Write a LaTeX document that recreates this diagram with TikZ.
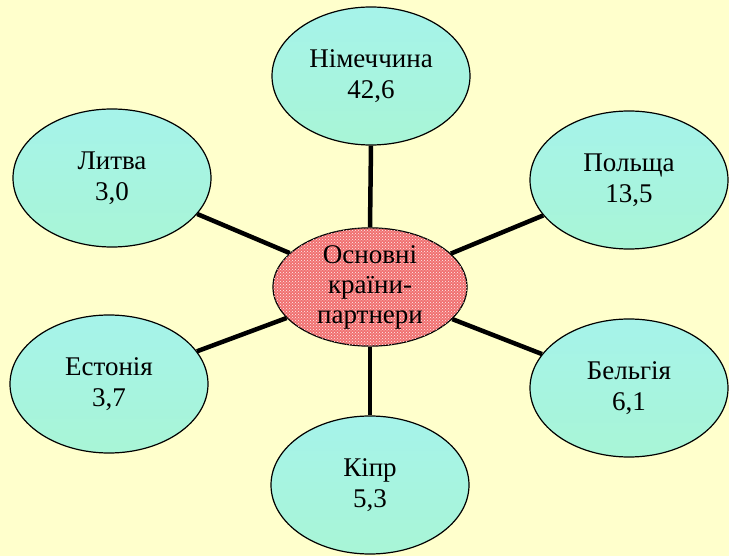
\documentclass[tikz,border=0pt]{standalone}
\usepackage{fontspec}
\setmainfont{Liberation Serif}
\usetikzlibrary{shapes.geometric,patterns}
\definecolor{bgc}{HTML}{FFFFCC}
\definecolor{topc}{HTML}{A6F3EA}
\definecolor{botc}{HTML}{A8F5D6}
\definecolor{redc}{HTML}{F07070}
\tikzset{
  outer/.style={ellipse, draw=black, line width=1.2pt, top color=topc, bottom color=botc,
    minimum width=198pt, minimum height=138pt, inner sep=0pt, align=center,
    font=\fontsize{27}{31}\selectfont},
  core/.style={ellipse, draw=black, line width=1.2pt, fill=redc,
    postaction={pattern=crosshatch dots, pattern color=white!90!redc},
    minimum width=194pt, minimum height=116pt, inner sep=0pt, align=center,
    font=\fontsize{27}{30}\selectfont},
  link/.style={line width=4.5pt, black}
}
\begin{document}
\begin{tikzpicture}[x=1pt,y=1pt]
\fill[bgc] (0,0) rectangle (729,-556);
\useasboundingbox (0,0) rectangle (729,-556);
\node[core] (c) at (370,-287) {Основні\\країни-\\партнери};
\node[outer] (de) at (371,-76) {Німеччина\\42,6};
\node[outer] (lt) at (112,-178) {Литва\\3,0};
\node[outer] (pl) at (629,-180) {Польща\\13,5};
\node[outer] (ee) at (109,-384) {Естонія\\3,7};
\node[outer] (be) at (629,-388) {Бельгія\\6,1};
\node[outer] (cy) at (370,-485) {Кіпр\\5,3};
\draw[link] (c.north) -- (de.south);
\draw[link] (c.south) -- (cy.north);
\draw[link] (c) -- (lt);
\draw[link] (c) -- (pl);
\draw[link] (c) -- (ee);
\draw[link] (c) -- (be);
\end{tikzpicture}
\end{document}
